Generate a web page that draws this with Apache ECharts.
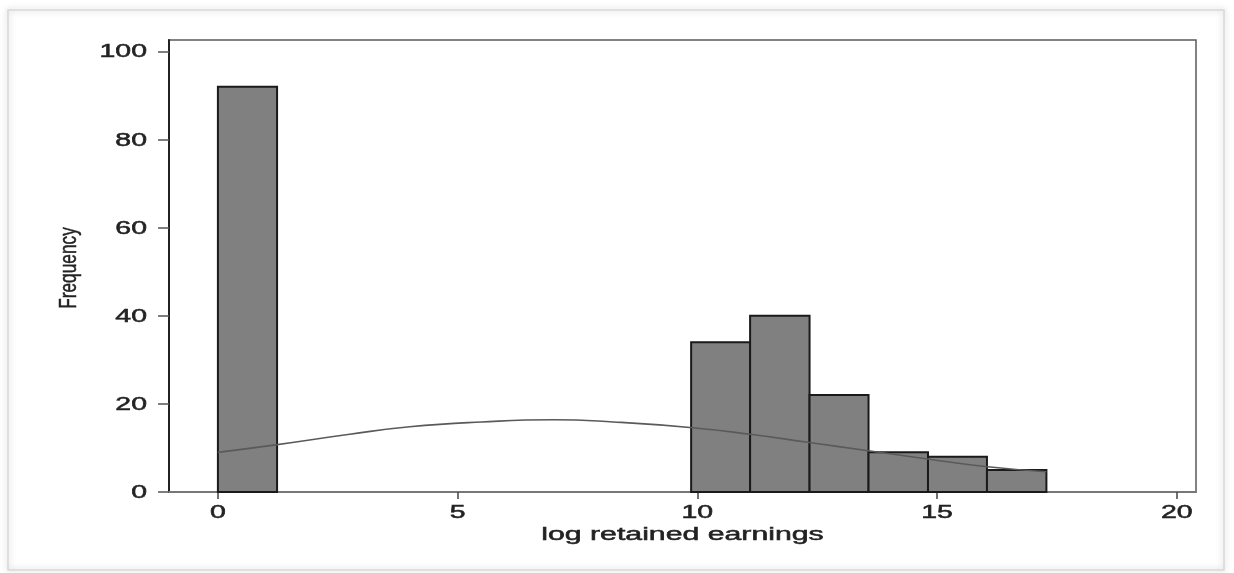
<!DOCTYPE html>
<html>
<head>
<meta charset="utf-8">
<script src="https://cdn.jsdelivr.net/npm/echarts@6/dist/echarts.min.js"></script>
<style>html,body{margin:0;padding:0;background:#fff;}#c{width:1234px;height:573px;}</style>
</head>
<body>
<div id="c"></div>
<script>
// Histogram bins (log retained earnings)
const binLeft  = [0, 9.87, 11.10, 12.34, 13.57, 14.81, 16.04];
const binRight = [1.234, 11.10, 12.34, 13.57, 14.81, 16.04, 17.28];
const binCount = [92, 34, 40, 22, 9, 8, 5];
// Overlaid density curve
const curveX = [0, 1.2, 2.75, 4.0, 5.5, 7.0, 8.25, 9.9, 11.1, 12.3, 13.6, 14.8, 16.0, 17.28];
const curveY = [9.0, 10.7, 13.1, 14.8, 15.9, 16.4, 15.9, 14.6, 13.1, 11.3, 9.3, 7.5, 5.8, 4.6];
const xTicks = [0, 5, 10, 15, 20];
const yTicks = [0, 20, 40, 60, 80, 100];
const xTitle = 'log retained earnings';
const yTitle = 'Frequency';

const chart = echarts.init(document.getElementById('c'));
const font = '"Liberation Sans", Arial, Helvetica, sans-serif';
const txtColor = '#222';
const barData = binLeft.map((l, i) => [l, binRight[i], binCount[i]]);
const frame = {
  type: 'rect', shape: {x: 8, y: 10, width: 1216, height: 560},
  style: {fill: 'rgba(0,0,0,0)', stroke: '#d8d8d8', lineWidth: 1.5,
    shadowBlur: 6, shadowColor: 'rgba(0,0,0,0.25)'}, z: -10
};
chart.setOption({
  animation: false,
  backgroundColor: '#fff',
  graphic: [frame],
  grid: {left: 169, top: 40, right: 38, bottom: 81, show: true,
    borderColor: '#5a5a5a', borderWidth: 1.5, backgroundColor: 'transparent'},
  xAxis: {
    type: 'value', min: -1.02, max: 20.4,
    axisLine: {show: true, onZero: false, lineStyle: {color: '#777', width: 2}},
    axisTick: {show: true, customValues: xTicks, length: 7, lineStyle: {color: '#444', width: 1.5}},
    axisLabel: {show: false, customValues: xTicks},
    splitLine: {show: false}
  },
  yAxis: {
    type: 'value', min: 0, max: 102.6,
    axisLine: {show: true, onZero: false, lineStyle: {color: '#222', width: 2}},
    axisTick: {show: true, customValues: yTicks, length: 11, lineStyle: {color: '#555', width: 1.5}},
    axisLabel: {show: false, customValues: yTicks},
    splitLine: {show: false}
  },
  series: [{
    type: 'custom',
    data: barData,
    encode: {x: [0, 1], y: 2},
    renderItem: function (params, api) {
      const p0 = api.coord([api.value(0), 0]);
      const p1 = api.coord([api.value(1), api.value(2)]);
      return {
        type: 'rect',
        shape: {x: p0[0], y: p1[1], width: p1[0] - p0[0], height: p0[1] - p1[1]},
        style: {fill: '#808080', stroke: '#1a1a1a', lineWidth: 2}
      };
    },
    z: 2
  }, {
    type: 'line',
    data: curveX.map((x, i) => [x, curveY[i]]),
    smooth: true, showSymbol: false,
    lineStyle: {color: '#5a5a5a', width: 1.6},
    z: 3
  }]
});

// Stretched (wide) text labels placed through the axis scales
const g = [frame];
const sx = 1.58;
const txt = (text, size, align) => ({text: text, font: size + 'px ' + font, fill: txtColor,
  stroke: txtColor, lineWidth: 0.5, align: align, verticalAlign: 'middle'});
xTicks.forEach(v => {
  const p = chart.convertToPixel({gridIndex: 0}, [v, 0]);
  g.push({type: 'text', x: p[0], y: 513, scaleX: sx, style: txt(String(v), 18, 'center')});
});
yTicks.forEach(v => {
  const p = chart.convertToPixel({gridIndex: 0}, [0, v]);
  g.push({type: 'text', x: 147, y: p[1] + 1, scaleX: sx, style: txt(String(v), 18, 'right')});
});
const mid = chart.convertToPixel({gridIndex: 0}, [(-1.02 + 20.4) / 2, 102.6 / 2]);
g.push({type: 'text', x: mid[0], y: 535, scaleX: 1.68, style: txt(xTitle, 18, 'center')});
g.push({type: 'text', x: 69, y: mid[1] + 2, rotation: Math.PI / 2, scaleX: 0.72, style: txt(yTitle, 24, 'center')});
chart.setOption({graphic: g});
</script>
</body>
</html>
